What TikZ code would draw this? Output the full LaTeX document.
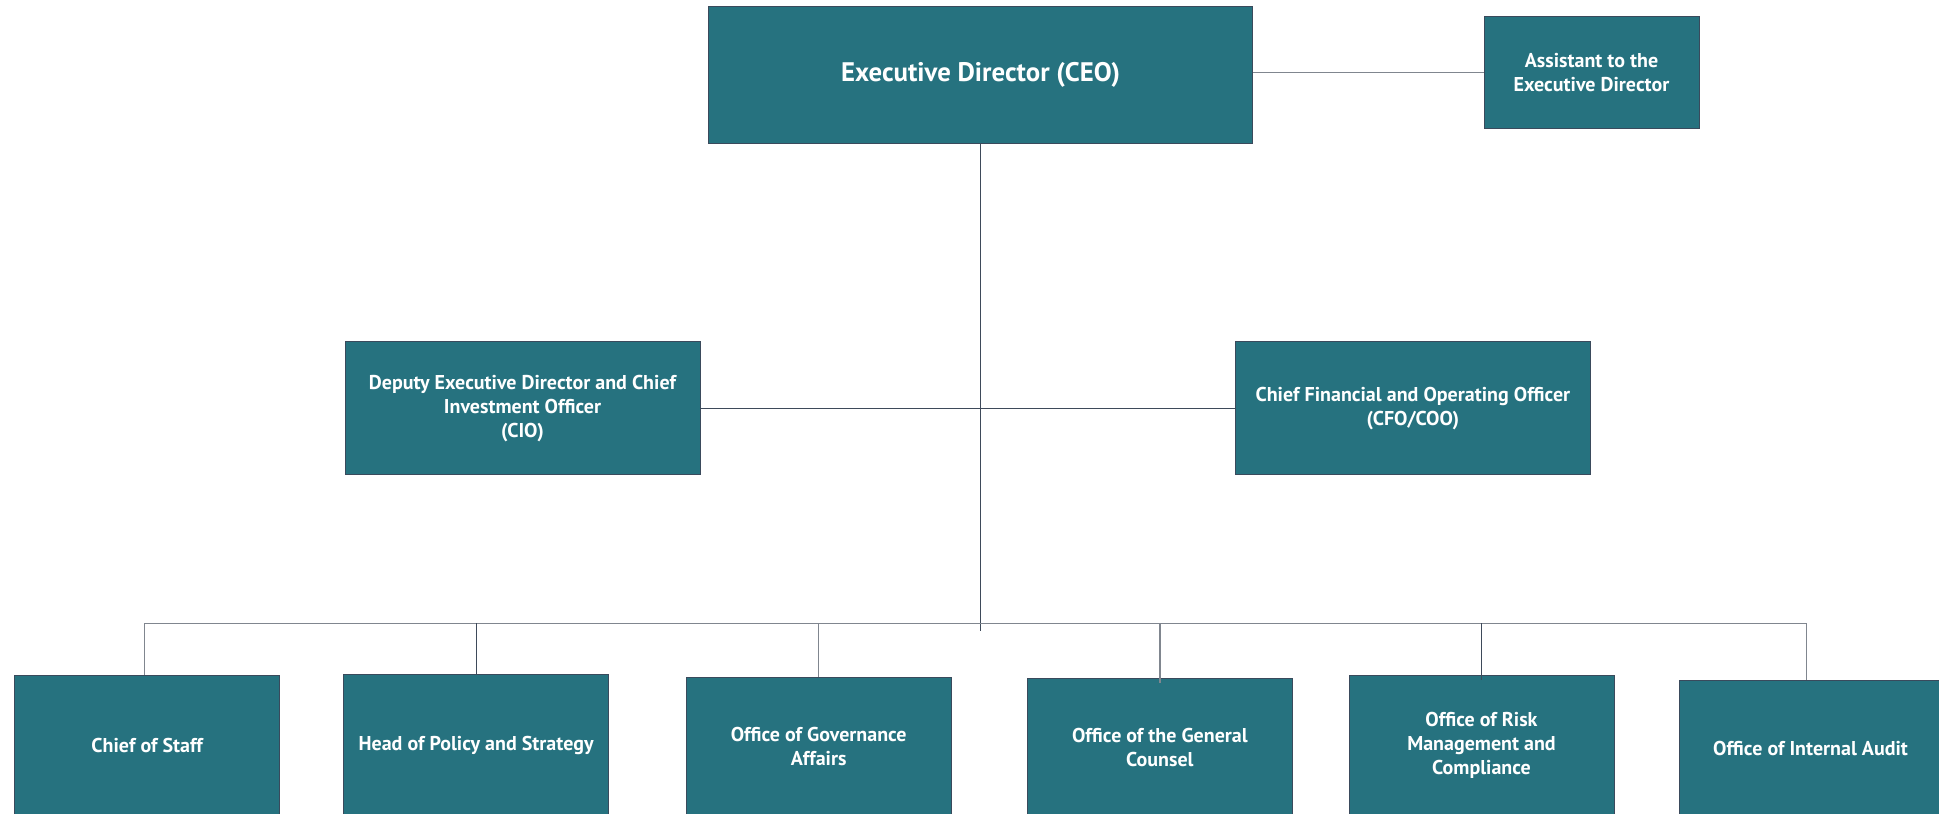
\documentclass[tikz,border=0pt]{standalone}
\usepackage{fontspec}
\setmainfont{PT Sans}
\definecolor{boxfill}{HTML}{26727F}
\definecolor{boxline}{HTML}{3A4A5C}
\definecolor{linkgray}{HTML}{80868F}
\definecolor{linkdark}{HTML}{3E4A5A}
\tikzset{
  orgbox/.style={draw=boxline, line width=1pt, fill=boxfill, text=white,
    font=\bfseries\fontsize{20}{24}\selectfont, align=center, inner sep=0pt},
  botbox/.style={orgbox, minimum width=265pt},
  link/.style={draw=linkgray, line width=1.4pt},
  linkd/.style={draw=linkdark, line width=1.2pt}
}
\begin{document}
\begin{tikzpicture}[x=1pt, y=-1pt]
\useasboundingbox (0,0) rectangle (1939,814);
\clip (0,0) rectangle (1939,814);
% top
\node[orgbox, minimum width=544pt, minimum height=137pt, font=\bfseries\fontsize{26.8}{32}\selectfont] (ceo) at (980.6,74.8) {Executive Director (CEO)};
\node[orgbox, minimum width=215pt, minimum height=112.6pt] (asst) at (1591.5,72.3) {Assistant to the\\Executive Director};
% middle
\node[orgbox, minimum width=355pt, minimum height=133.6pt] (cio) at (522.5,408.1) {Deputy Executive Director and Chief\\Investment Officer\\(CIO)};
\node[orgbox, minimum width=355pt, minimum height=133.6pt] (cfo) at (1412.9,408.1) {Chief Financial and Operating Officer\\(CFO/COO)};
% bottom
\node[botbox, minimum height=140pt] (cos) at (147.2,745.2) {Chief of Staff};
\node[botbox, minimum height=142pt] (hps) at (476.1,745) {Head of Policy and Strategy};
\node[botbox, minimum height=138pt] (gov) at (818.7,746.8) {Office of Governance\\Affairs};
\node[botbox, minimum height=137pt] (gc) at (1159.9,747.4) {Office of the General\\Counsel};
\node[botbox, minimum height=140pt] (risk) at (1481.5,745.2) {Office of Risk\\Management and\\Compliance};
\node[botbox, minimum width=262pt, minimum height=136pt] (ia) at (1810.5,748) {Office of Internal Audit};
% connectors
\coordinate (busL) at (144.7,623.2);
\coordinate (busR) at (1806.7,623.2);
\coordinate (mainEnd) at (979.4,630.7);
\draw[link] (asst.west -| ceo.east) -- (asst.west);
\draw[linkd] (ceo.south) -- (ceo.south |- mainEnd);
\draw[linkd] (cio.east) -- (cfo.west);
\draw[link] (busL) -- (busR);
\draw[link] (busL) -- (busL |- cos.north);
\draw[linkd] (hps.north |- busL) -- (hps.north);
\draw[link] (gov.north |- busL) -- (gov.north);
\draw[link] (gc.north |- busL) -- ([yshift=-5pt]gc.north);
\draw[linkd] (risk.north |- busL) -- ([yshift=-5pt]risk.north);
\draw[link] (busR) -- (busR |- ia.north);
\end{tikzpicture}
\end{document}
